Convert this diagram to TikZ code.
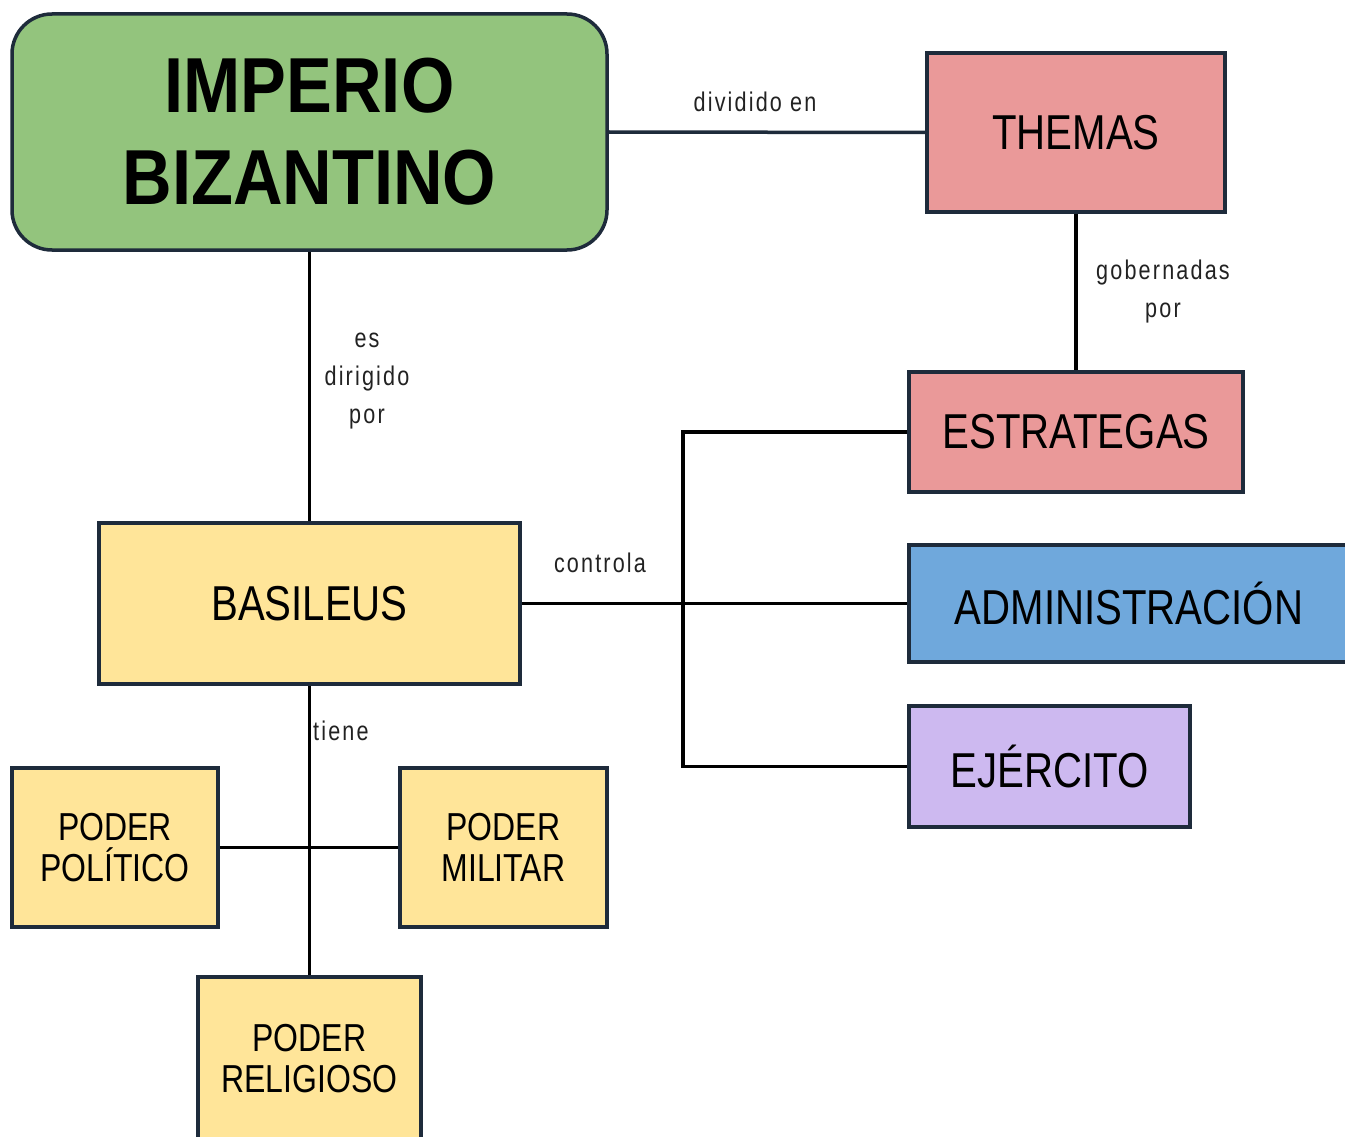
\documentclass[tikz,border=0pt]{standalone}
\usepackage{fontspec}
\setmainfont{Liberation Sans}
\newfontfamily\titlefont[FakeStretch=0.88]{Liberation Sans}
\newfontfamily\boxfont[FakeStretch=0.82]{Liberation Sans}
\newfontfamily\labfont[FakeStretch=0.8,LetterSpace=8]{Liberation Sans}
\definecolor{bordc}{HTML}{1E2B3B}
\definecolor{greenf}{HTML}{93C47D}
\definecolor{redf}{HTML}{EA9999}
\definecolor{bluef}{HTML}{6FA8DC}
\definecolor{purplef}{HTML}{CDB9F0}
\definecolor{yellowf}{HTML}{FFE599}
\definecolor{labc}{HTML}{222222}
\begin{document}
\begin{tikzpicture}[x=1pt,y=-1pt,
  box/.style={draw=bordc,line width=3.5pt,inner sep=0pt,align=center,text=black},
  bigbox/.style={box,font=\boxfont\fontsize{49}{56}\selectfont},
  podbox/.style={box,fill=yellowf,font=\boxfont\fontsize{39}{41}\selectfont},
  conn/.style={draw=black,line width=3.5pt},
  lab/.style={font=\labfont\fontsize{27}{38}\selectfont,text=labc,align=center,inner sep=0pt}]
\clip (0,0) rectangle (1345,1137);
\fill[white] (0,0) rectangle (1345,1137);
% nodes
\node[box,fill=greenf,rounded corners=40pt,minimum width=595pt,minimum height=236pt,
  font=\titlefont\bfseries\fontsize{78}{92}\selectfont] (imp) at (309.5,132) {IMPERIO\\BIZANTINO};
\node[bigbox,fill=redf,minimum width=298pt,minimum height=159pt] (themas) at (1076,132.5) {THEMAS};
\node[bigbox,fill=redf,minimum width=334pt,minimum height=120pt] (estr) at (1076,432) {ESTRATEGAS};
\node[bigbox,fill=bluef,minimum width=440pt,minimum height=117pt] (admin) at (1129,603.5) {ADMINISTRACIÓN};
\node[bigbox,fill=purplef,minimum width=281pt,minimum height=121pt] (ejer) at (1049.5,766.5) {EJÉRCITO};
\node[bigbox,fill=yellowf,minimum width=421pt,minimum height=161pt] (bas) at (309.5,603.5) {BASILEUS};
\node[podbox,minimum width=206pt,minimum height=159pt] (pol) at (115,847.5) {PODER\\POLÍTICO};
\node[podbox,minimum width=207pt,minimum height=159pt] (mil) at (503.5,847.5) {PODER\\MILITAR};
\node[podbox,minimum width=223pt,minimum height=164pt] (rel) at (309.5,1059) {PODER\\RELIGIOSO};
% connectors
\draw[conn,draw=bordc] (imp.east) -- (themas.west);
\draw[conn] (themas.south) -- (estr.north);
\draw[conn] (imp.south) -- (bas.north);
\draw[conn] (bas.east) -- (admin.west);
\coordinate (bus) at (683,603.5);
\draw[conn] (estr.west) -| (bus) |- (ejer.west);
\draw[conn] (bas.south) -- (rel.north);
\draw[conn] (pol.east) -- (mil.west);
% labels
\node[lab] (l1) at (755,102) {dividido en};
\node[lab] (l2) at (1163,292) {gobernadas\\por};
\node[lab] (l3) at (367,381) {es\\dirigido\\por};
\node[lab] (l4) at (600,563) {controla};
\node[lab,anchor=west] (l5) at (313,731) {tiene};
\end{tikzpicture}
\end{document}
